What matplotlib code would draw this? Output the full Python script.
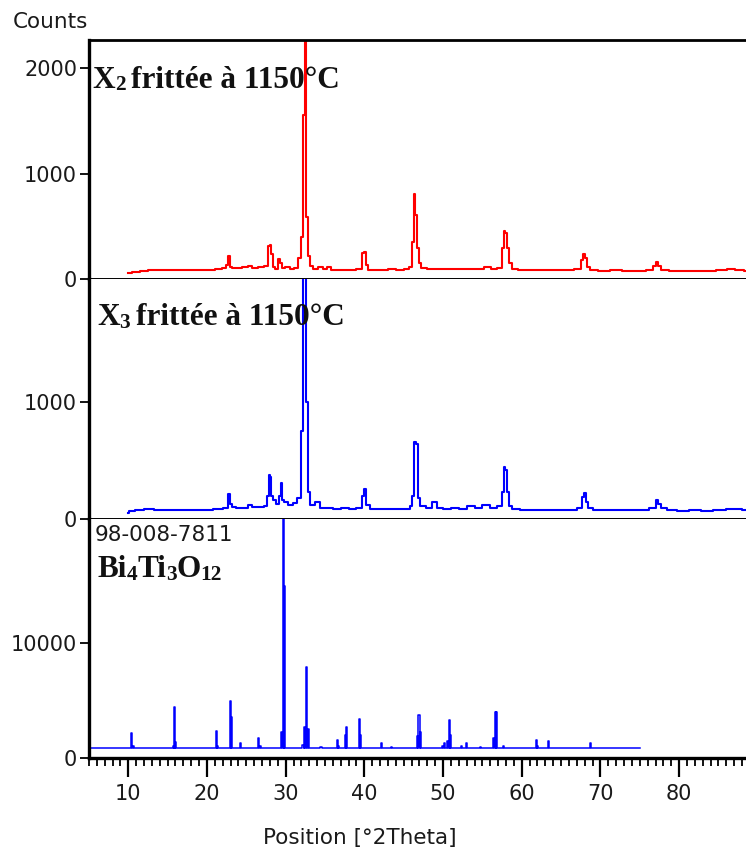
import matplotlib
matplotlib.use("Agg")
import matplotlib.pyplot as plt
from matplotlib.ticker import MultipleLocator, FixedLocator
from matplotlib.transforms import IdentityTransform

# ---------------- data ----------------
# X2 sintered at 1150 C (red)
x2_pos = [10.0, 11.0, 12.0, 13.0, 14.5, 16.0, 17.5, 19.0, 20.5, 21.5, 22.3, 22.6, 22.8,
          23.0, 23.4, 24.0, 25.0, 25.4, 26.0, 27.0, 27.6, 27.9, 28.1, 28.3, 28.5, 28.8,
          29.2, 29.4, 29.7, 30.2, 30.8, 31.4, 31.8, 32.1, 32.3, 32.5, 32.7, 32.9, 33.2,
          33.8, 34.4, 35.0, 35.4, 36.2, 37.5, 38.5, 39.5, 39.9, 40.1, 40.3, 40.6, 41.5,
          42.5, 43.5, 44.5, 45.5, 45.9, 46.2, 46.4, 46.6, 46.8, 47.0, 47.4, 48.5, 50.0,
          51.5, 53.0, 54.5, 55.8, 56.5, 57.3, 57.6, 57.8, 58.0, 58.2, 58.5, 59.0, 60.0,
          61.5, 63.0, 64.5, 66.0, 67.3, 67.7, 67.9, 68.1, 68.4, 69.0, 70.5, 72.0, 73.5,
          75.0, 76.5, 76.9, 77.2, 77.5, 78.0, 79.5, 81.0, 82.5, 84.0, 85.5, 86.7, 87.5,
          88.9]
x2_counts = [60, 65, 80, 85, 88, 85, 90, 88, 92, 95, 105, 140, 225,
             120, 110, 105, 112, 130, 108, 118, 130, 320, 325, 240, 120, 100,
             190, 150, 105, 120, 95, 110, 200, 400, 1560, 2900, 590, 220, 130,
             100, 115, 95, 115, 90, 92, 90, 95, 250, 255, 140, 85, 92,
             88, 95, 92, 98, 120, 350, 810, 610, 300, 150, 105, 100, 98,
             102, 100, 95, 118, 95, 110, 300, 455, 440, 300, 150, 100, 88,
             85, 90, 88, 85, 95, 180, 240, 200, 120, 85, 80, 88, 80,
             82, 85, 130, 160, 125, 88, 75, 80, 78, 82, 85, 100, 88,
             75]

# X3 sintered at 1150 C (blue)
x3_pos = [10.0, 10.3, 11.5, 12.5, 14.0, 16.0, 18.0, 20.0, 21.5, 22.5, 22.8, 23.0, 23.3,
          24.0, 25.0, 25.4, 26.0, 27.0, 27.5, 27.8, 27.95, 28.1, 28.3, 28.6, 29.0, 29.3,
          29.45, 29.6, 30.1, 30.6, 31.2, 31.8, 32.1, 32.4, 32.7, 32.9, 33.3, 34.1, 34.6,
          35.5, 36.5, 37.5, 38.5, 39.5, 39.9, 40.1, 40.4, 41.0, 42.0, 43.5, 44.5, 45.5,
          46.0, 46.2, 46.5, 46.7, 46.9, 47.3, 48.3, 49.0, 49.4, 50.5, 51.5, 52.5, 53.5,
          54.5, 55.5, 56.5, 57.3, 57.6, 57.8, 58.0, 58.2, 58.5, 59.0, 60.5, 62.0, 63.5,
          65.0, 66.5, 67.5, 67.8, 68.0, 68.3, 68.6, 69.5, 71.0, 72.5, 74.0, 75.5, 76.8,
          77.2, 77.5, 77.9, 79.0, 80.5, 82.0, 83.5, 85.0, 87.0, 88.9]
x3_counts = [55, 70, 75, 85, 82, 80, 82, 82, 85, 95, 215, 130, 105,
             98, 100, 120, 102, 105, 110, 200, 375, 360, 200, 160, 130, 200,
             305, 160, 148, 120, 140, 180, 750, 2600, 1000, 230, 120, 148, 100,
             95, 88, 92, 85, 92, 200, 256, 120, 90, 85, 88, 90, 85,
             110, 196, 659, 640, 180, 110, 95, 147, 100, 88, 95, 90, 115,
             100, 118, 100, 110, 230, 446, 418, 230, 110, 85, 78, 80, 78,
             80, 82, 100, 190, 224, 150, 100, 80, 75, 78, 80, 78, 100,
             162, 130, 95, 78, 70, 75, 72, 75, 90, 75]

# Reference pattern 98-008-7811 Bi4Ti3O12 (peak positions / heights)
ref_pos = [5.05, 10.45, 10.62, 15.75, 15.9, 16.05, 21.2, 21.36, 23.0, 23.16, 24.3,
           26.6, 26.76, 29.45, 29.7, 29.86, 32.2, 32.4, 32.7, 32.86, 34.5, 36.6,
           36.76, 37.55, 37.75, 39.4, 39.56, 42.2, 43.4, 46.75, 46.95, 47.11, 49.9,
           50.15, 50.6, 50.8, 50.96, 52.3, 52.95, 54.8, 56.45, 56.62, 56.78, 57.7,
           61.9, 62.06, 63.4, 68.7]
ref_counts = [1030, 2100, 1030, 1030, 4450, 1380, 2280, 1030, 4900, 3500, 1260,
              1700, 1030, 2190, 21000, 15000, 1070, 2630, 7900, 2460, 900, 1560,
              1030, 2000, 2630, 3370, 1930, 1260, 900, 1900, 3740, 2190, 1030,
              1230, 1480, 3270, 1930, 1030, 1230, 900, 1700, 3950, 3950, 1030,
              1530, 1030, 1400, 1260]
ref_baseline = 800
ref_range = (5.0, 75.0)

x_ticks = [10, 20, 30, 40, 50, 60, 70, 80]
y_ticks = [[0, 1000, 2000], [0, 1000], [0, 10000]]
y_tops = [2270, 2040, 20800]

# ---------------- figure ----------------
W_PX, H_PX = 746, 848
fig = plt.figure(figsize=(W_PX / 100, H_PX / 100), dpi=100)
TXT = "#1a1a1a"

left = 88.9 / W_PX
def add_ax(top_px, bot_px):
    return fig.add_axes([left, 1 - bot_px / H_PX, 1 - left, (bot_px - top_px) / H_PX])

ax1 = add_ax(40, 279.3)
ax2 = add_ax(279.3, 519.3)
ax3 = add_ax(519.3, 757.5)
axes = [ax1, ax2, ax3]

ax1.plot(x2_pos, x2_counts, color="#ff0000", lw=1.5, drawstyle="steps-mid")
ax2.plot(x3_pos, x3_counts, color="#0000ff", lw=1.5, drawstyle="steps-mid")

hw = 0.07
rx, ry = [ref_range[0]], [ref_baseline]
for p, h in zip(ref_pos, ref_counts):
    rx += [p - hw, p - hw, p + hw, p + hw]
    ry += [ref_baseline, h, h, ref_baseline]
rx.append(ref_range[1]); ry.append(ref_baseline)
ax3.plot(rx, ry, color="#0000ff", lw=1.1)

for i, ax in enumerate(axes):
    ax.set_xlim(5, 88.5)
    ax.set_ylim(0, y_tops[i])
    ax.yaxis.set_major_locator(FixedLocator(y_ticks[i]))
    ax.spines["right"].set_visible(False)
    ax.spines["left"].set_linewidth(2.4)
    ax.tick_params(axis="y", direction="out", length=6.5, width=1.3, pad=2,
                   labelsize=15, labelcolor=TXT)
    if i < 2:
        ax.tick_params(axis="x", bottom=False, labelbottom=False)
        ax.spines["bottom"].set_linewidth(1.4)
    else:
        ax.spines["bottom"].set_linewidth(2.4)
        ax.xaxis.set_major_locator(FixedLocator(x_ticks))
        ax.xaxis.set_minor_locator(MultipleLocator(1))
        ax.tick_params(axis="x", which="major", direction="out", length=14, width=1.6,
                       pad=5, labelsize=15, labelcolor=TXT)
        ax.tick_params(axis="x", which="minor", direction="out", length=5.5, width=1.3)
    if i == 0:
        ax.spines["top"].set_linewidth(2.0)
    else:
        ax.spines["top"].set_visible(False)

fig.text(13 / W_PX, 1 - 22 / H_PX, "Counts", fontsize=15.5, color=TXT,
         ha="left", va="center")
fig.text(360 / W_PX, 1 - 838 / H_PX, "Position [°2Theta]", fontsize=15.5, color=TXT,
         ha="center", va="center")
fig.text(95, H_PX - 541, "98-008-7811", fontsize=15.5, color=TXT,
         ha="left", va="baseline", transform=IdentityTransform())

renderer = fig.canvas.get_renderer()
def rich(x_img, base_img, parts, size=22.5):
    x = x_img
    for s, sub, gap in parts:
        fs = size * 0.68 if sub else size
        y = H_PX - base_img - (3 if sub else 0)
        t = fig.text(x, y, s, transform=IdentityTransform(), fontsize=fs,
                     family="Liberation Serif", weight="bold", color="#111111",
                     ha="left", va="baseline")
        bb = t.get_window_extent(renderer)
        x = bb.x1 + gap

rich(92, 87.5, [("X", False, 0), ("2", True, 6), ("frittée à 1150°C", False, 0)])
rich(97, 325, [("X", False, 0), ("3", True, 6), ("frittée à 1150°C", False, 0)])
rich(97, 577, [("Bi", False, 0), ("4", True, 0), ("Ti", False, 0), ("3", True, 0),
               ("O", False, 0), ("12", True, 0)])

fig.savefig("out.png", dpi=100)
